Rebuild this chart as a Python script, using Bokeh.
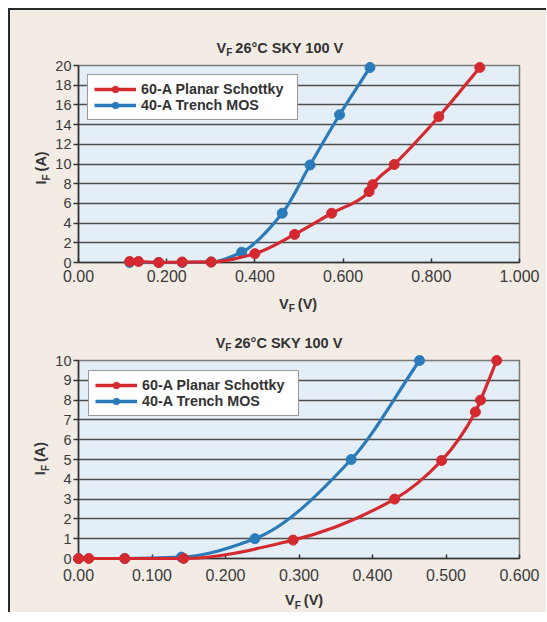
import numpy as np
from bokeh.plotting import figure
from bokeh.models import ColumnDataSource, Legend, LegendItem, FixedTicker, Range1d
from bokeh.layouts import column
from bokeh.embed import file_html
from bokeh.resources import INLINE
from bokeh.core.properties import value

# ---------------- data ----------------
top_red_x = [0.116, 0.136, 0.182, 0.235, 0.301, 0.400, 0.490, 0.574, 0.659, 0.667, 0.716, 0.817, 0.910]
top_red_y = [0.1, 0.1, 0.0, 0.05, 0.05, 0.9, 2.85, 5.0, 7.2, 7.9, 9.95, 14.8, 19.8]
top_blue_x = [0.116, 0.182, 0.235, 0.301, 0.370, 0.462, 0.525, 0.592, 0.661]
top_blue_y = [0.0, 0.0, 0.0, 0.05, 1.05, 5.0, 9.9, 15.0, 19.8]

bot_red_x = [0.000, 0.014, 0.063, 0.143, 0.292, 0.430, 0.494, 0.540, 0.547, 0.569]
bot_red_y = [0.0, 0.0, 0.0, 0.0, 0.93, 3.0, 4.95, 7.4, 8.0, 10.0]
bot_blue_x = [0.000, 0.063, 0.140, 0.240, 0.371, 0.464]
bot_blue_y = [0.0, 0.0, 0.07, 1.0, 5.0, 10.0]

top_xticks = [0.0, 0.2, 0.4, 0.6, 0.8, 1.0]
top_xlabels = ["0.00", "0.200", "0.400", "0.600", "0.800", "1.000"]
top_yticks = list(range(0, 21, 2))
bot_xticks = [0.0, 0.1, 0.2, 0.3, 0.4, 0.5, 0.6]
bot_xlabels = ["0.00", "0.100", "0.200", "0.300", "0.400", "0.500", "0.600"]
bot_yticks = list(range(0, 11, 1))

series_names = ["60-A Planar Schottky", "40-A Trench MOS"]
title_rest = "26°C SKY 100 V"

# ---------------- style ----------------
FONT = "Liberation Sans"
RED = "#d42a2f"
BLUE = "#2b7bba"
TXT = "#333333"
BEIGE = "#f2ece4"
PLOTBG = "#e4eef6"
FW = 441


def pchip_bezier(xs, ys):
    """Monotone cubic (PCHIP) segments expressed as Bezier control points."""
    x = np.asarray(xs, float)
    y = np.asarray(ys, float)
    h = np.diff(x)
    d = np.diff(y) / h
    n = len(x)
    m = np.zeros(n)
    m[0], m[-1] = d[0], d[-1]
    for k in range(1, n - 1):
        if d[k - 1] * d[k] <= 0:
            m[k] = 0.0
        else:
            w1 = 2 * h[k] + h[k - 1]
            w2 = h[k] + 2 * h[k - 1]
            m[k] = (w1 + w2) / (w1 / d[k - 1] + w2 / d[k])
    return dict(
        x0=x[:-1], y0=y[:-1], x1=x[1:], y1=y[1:],
        cx0=x[:-1] + h / 3, cy0=y[:-1] + m[:-1] * h / 3,
        cx1=x[1:] - h / 3, cy1=y[1:] - m[1:] * h / 3,
    )


def txt(p, x, y, s, size, align, angle=0.0):
    p.text(x=[x], y=[y], text=[s], text_font=value(FONT), text_font_size=value(f"{size}px"),
           text_font_style="bold", text_color=TXT, text_align=align, text_baseline="middle",
           angle=angle, level="overlay")


# approximate bold advance widths (em)
CW = {"(": 0.333, ")": 0.333, "V": 0.667, "A": 0.722, " ": 0.278, "°": 0.4,
      "C": 0.722, "S": 0.667, "K": 0.722, "Y": 0.667, "I": 0.278, "F": 0.611}


def vsub(p, x, y, main, sub, rest, ppx, ppy, size=14.5, vertical=False):
    """Text with a subscript centred on data point (x, y); widths in px converted to data."""
    ss = round(size * 0.68)
    wm = CW[main] * size
    ws = CW[sub] * ss
    gap = 3
    wr = sum(CW.get(c, 0.556) for c in rest) * size
    total = wm + ws + gap + wr
    a = -total / 2 + wm
    b = a + ws + gap
    if not vertical:
        txt(p, x + a / ppx, y, main, size, "right")
        txt(p, x + a / ppx, y - 5 / ppy, sub, ss, "left")
        txt(p, x + b / ppx, y, rest, size, "left")
    else:
        ang = np.pi / 2
        txt(p, x, y + a / ppy, main, size, "right", ang)
        txt(p, x + 5 / ppx, y + a / ppy, sub, ss, "left", ang)
        txt(p, x, y + b / ppy, rest, size, "left", ang)


def make_chart(xr, yr, xticks, xlabels, yticks, rx, ry, bx, by, fh, mb_top, mb_bottom,
               title_xy, xt_xy, yt_xy, leg_margin, x_standoff):
    p = figure(frame_width=FW, frame_height=fh,
               x_range=Range1d(*xr), y_range=Range1d(*yr),
               output_backend="svg", toolbar_location=None,
               min_border_left=68, min_border_right=27,
               min_border_top=mb_top, min_border_bottom=mb_bottom,
               background_fill_color=PLOTBG, border_fill_color=BEIGE,
               outline_line_color="#7a7a7a", outline_line_width=1.5)
    ppx = FW / (xr[1] - xr[0])
    ppy = fh / (yr[1] - yr[0])
    p.xgrid.visible = False
    p.ygrid.grid_line_color = "#4d4d4d"
    p.ygrid.grid_line_width = 1.6
    p.xaxis.ticker = FixedTicker(ticks=xticks)
    p.xaxis.major_label_overrides = {t: l for t, l in zip(xticks, xlabels)}
    p.yaxis.ticker = FixedTicker(ticks=yticks)
    for ax in (p.xaxis[0], p.yaxis[0]):
        ax.axis_line_color = "#333333"
        ax.axis_line_width = 1.6
        ax.major_tick_line_color = "#333333"
        ax.major_tick_line_width = 1.5
        ax.minor_tick_line_color = None
        ax.major_label_text_font = FONT
        ax.major_label_text_color = "#3a3a3a"
    p.xaxis.major_tick_in = 4
    p.xaxis.major_tick_out = 0
    p.xaxis.major_label_text_font_size = "16px"
    p.xaxis.major_label_standoff = x_standoff
    p.yaxis.major_tick_in = 0
    p.yaxis.major_tick_out = 5
    p.yaxis.major_label_text_font_size = "14.5px"
    p.yaxis.major_label_standoff = 2

    # curves (blue first so red sits on top)
    p.bezier(source=ColumnDataSource(pchip_bezier(bx, by)), x0="x0", y0="y0", x1="x1", y1="y1",
             cx0="cx0", cy0="cy0", cx1="cx1", cy1="cy1", line_color=BLUE, line_width=3.2, level="overlay")
    bsc = p.scatter(bx, by, size=10, color=BLUE, level="overlay")
    p.bezier(source=ColumnDataSource(pchip_bezier(rx, ry)), x0="x0", y0="y0", x1="x1", y1="y1",
             cx0="cx0", cy0="cy0", cx1="cx1", cy1="cy1", line_color=RED, line_width=3.2, level="overlay")
    rsc = p.scatter(rx, ry, size=10, color=RED, level="overlay")

    # invisible single-NaN lines, only to give the legend its line sample
    rleg = p.line(x=[np.nan], y=[np.nan], line_color=RED, line_width=3.5)
    bleg = p.line(x=[np.nan], y=[np.nan], line_color=BLUE, line_width=3.5)
    legend = Legend(items=[LegendItem(label=series_names[0], renderers=[rleg, rsc]),
                           LegendItem(label=series_names[1], renderers=[bleg, bsc])],
                    location="top_left", margin=leg_margin, padding=6, spacing=0,
                    glyph_width=42, glyph_height=16, label_height=16, label_standoff=5,
                    label_width=150,
                    label_text_font=FONT, label_text_font_size="14.3px", label_text_font_style="bold",
                    label_text_color=TXT,
                    background_fill_color="white", background_fill_alpha=1.0,
                    border_line_color="#333333", border_line_width=1.5)
    p.add_layout(legend)

    vsub(p, title_xy[0], title_xy[1], "V", "F", title_rest, ppx, ppy)
    vsub(p, xt_xy[0], xt_xy[1], "V", "F", "(V)", ppx, ppy)
    vsub(p, yt_xy[0], yt_xy[1], "I", "F", "(A)", ppx, ppy, vertical=True)
    return p


p1 = make_chart((0, 1), (0, 20), top_xticks, top_xlabels, top_yticks,
                top_red_x, top_red_y, top_blue_x, top_blue_y,
                fh=197, mb_top=55, mb_bottom=52,
                title_xy=(0.457, 21.8), xt_xy=(0.498, -4.2), yt_xy=(-0.085, 9.6),
                leg_margin=9, x_standoff=7)
p2 = make_chart((0, 0.6), (0, 10), bot_xticks, bot_xlabels, bot_yticks,
                bot_red_x, bot_red_y, bot_blue_x, bot_blue_y,
                fh=198, mb_top=46, mb_bottom=54,
                title_xy=(0.273, 10.9), xt_xy=(0.307, -2.1), yt_xy=(-0.052, 5.05),
                leg_margin=10, x_standoff=10)

layout = column(p1, p2, spacing=0, margin=(8, 0, 0, 8),
                styles={"border-left": "2px solid #2a2a2a", "border-top": "2px solid #2a2a2a",
                        "background-color": BEIGE})

open("out.html", "w").write(file_html(layout, INLINE))
